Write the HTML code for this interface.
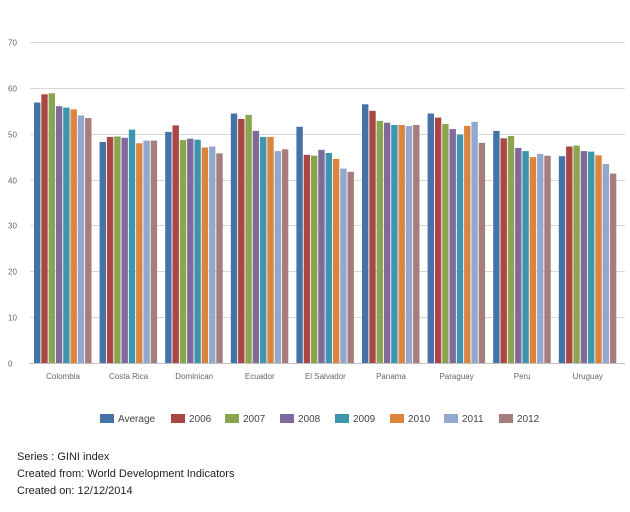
<!DOCTYPE html>
<html><head><meta charset="utf-8"><style>
body{margin:0;background:#fff;width:630px;height:507px;overflow:hidden;font-family:"Liberation Sans",sans-serif}
</style></head><body>
<svg width="630" height="507" xmlns="http://www.w3.org/2000/svg" font-family="Liberation Sans, sans-serif">
<g id="grid" stroke="#d8d8d8" stroke-width="1"></g>
<g id="bars"></g>
<g id="lab" font-size="8" fill="#666"></g>
<g id="leg" font-size="10" fill="#444"></g>
<text x="17" y="460" font-size="11" fill="#222">Series : GINI index</text>
<text x="17" y="477" font-size="11" fill="#222">Created from: World Development Indicators</text>
<text x="17" y="494" font-size="11" fill="#222">Created on: 12/12/2014</text>
</svg>
<script>
var ns="http://www.w3.org/2000/svg";
function el(p,t,a,txt){var e=document.createElementNS(ns,t);for(var k in a)e.setAttribute(k,a[k]);if(txt)e.textContent=txt;document.getElementById(p).appendChild(e);}
var y0=363,s=4.586;
for(var i=0;i<=7;i++){var y=Math.round(y0-i*10*s)+0.5;
 el('grid','line',{x1:30,x2:625,y1:y,y2:y,stroke:i==0?'#c0c0c0':'#d8d8d8'});
 el('lab','text',{x:8,y:y+3},String(i*10));}
var cols=["#4572A7","#AA4643","#89A54E","#80699B","#3D96AE","#DB843D","#92A8CD","#A47D7C"];
var names=["Colombia","Costa Rica","Dominican","Ecuador","El Salvador","Panama","Paraguay","Peru","Uruguay"];
var d=[[56.8,58.6,58.8,56.0,55.7,55.3,54.0,53.4],[48.2,49.3,49.4,49.1,50.9,47.9,48.5,48.5],[50.4,51.8,48.6,48.9,48.7,47.0,47.2,45.7],[54.4,53.2,54.1,50.6,49.3,49.3,46.2,46.6],[51.5,45.4,45.2,46.5,45.8,44.5,42.4,41.7],[56.4,55.0,52.8,52.4,51.9,51.9,51.7,51.9],[54.4,53.5,52.1,51.0,49.8,51.7,52.6,48.0],[50.6,49.0,49.5,46.9,46.2,44.9,45.6,45.2],[45.1,47.2,47.4,46.2,46.1,45.3,43.4,41.3]];
for(var g=0;g<9;g++){var gx=34+g*65.6;
 for(var b=0;b<8;b++){var h=d[g][b]*s;el('bars','rect',{x:(gx+b*7.3).toFixed(1),y:(y0-h).toFixed(1),width:6.4,height:h.toFixed(1),fill:cols[b]});}
 el('lab','text',{x:(gx+29).toFixed(1),y:379,'text-anchor':'middle'},names[g]);}
var lx=[100,171,225,280,335,390,444,499],ln=["Average","2006","2007","2008","2009","2010","2011","2012"];
for(var i=0;i<8;i++){el('leg','rect',{x:lx[i],y:414,width:14,height:9,fill:cols[i]});el('leg','text',{x:lx[i]+18,y:422},ln[i]);}
</script>
</body></html>
